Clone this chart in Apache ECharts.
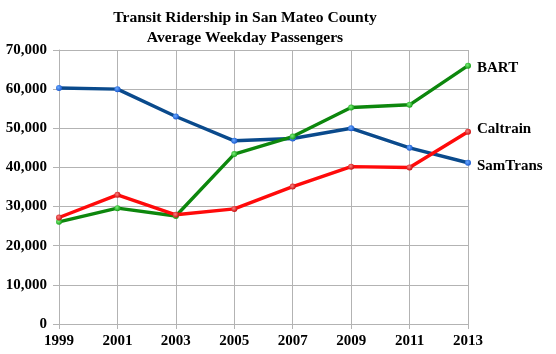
<!DOCTYPE html>
<html><head><meta charset="utf-8">
<script src="https://cdn.jsdelivr.net/npm/echarts@6/dist/echarts.min.js"></script>
<style>html,body{margin:0;padding:0;background:#fff}#c{width:556px;height:354px}</style>
</head><body><div id="c"></div>
<script>
var years = ['1999','2001','2003','2005','2007','2009','2011','2013'];
var bart = [26100, 29600, 27600, 43400, 47900, 55300, 56000, 66000];
var caltrain = [27200, 33000, 27900, 29400, 35100, 40200, 40000, 49100];
var samtrans = [60300, 60000, 53000, 46800, 47400, 50000, 45000, 41200];
var yTicks = [0, 10000, 20000, 30000, 40000, 50000, 60000, 70000];

var font = 'Liberation Serif';
function fmt(v){ return v.toLocaleString('en-US'); }
function mk(name, data, color, grad, dark, dy){
  return {
    name: name, type: 'line', data: data,
    symbol: 'circle', symbolSize: 6,
    lineStyle: {color: color, width: 3.4},
    itemStyle: {color: {type:'radial', x:0.4, y:0.4, r:0.6, colorStops:[{offset:0,color:grad},{offset:1,color:dark}]}, borderWidth: 0},
    endLabel: {show: true, formatter: '{a}', color: '#000', fontFamily: font, fontWeight: 'bold', fontSize: 15, distance: 9, offset: [0, dy]},
    animation: false, z: 3
  };
}
var chart = echarts.init(document.getElementById('c'));
chart.setOption({
  animation: false,
  title: {
    text: 'Transit Ridership in San Mateo County\nAverage Weekday Passengers',
    left: 240, top: 3, textAlign: 'center',
    textStyle: {fontFamily: font, fontWeight: 'bold', fontSize: 15.6, lineHeight: 20, color: '#000'}
  },
  grid: {left: 59, right: 88, top: 50, bottom: 30},
  xAxis: {
    type: 'category', data: years, boundaryGap: false,
    axisLine: {lineStyle: {color: '#b3b3b3', width: 1}},
    axisTick: {show: true, length: 5, lineStyle: {color: '#b3b3b3'}},
    splitLine: {show: true, lineStyle: {color: '#b3b3b3', width: 1}},
    axisLabel: {color: '#000', fontFamily: font, fontWeight: 'bold', fontSize: 15, margin: 10}
  },
  yAxis: {
    type: 'value', min: 0, max: 70000, interval: 10000,
    axisLine: {show: true, lineStyle: {color: '#b3b3b3', width: 1}},
    axisTick: {show: true, length: 6, lineStyle: {color: '#b3b3b3'}},
    splitLine: {show: true, lineStyle: {color: '#b3b3b3', width: 1}},
    axisLabel: {color: '#000', fontFamily: font, fontWeight: 'bold', fontSize: 15, margin: 12,
      formatter: function(v){ return yTicks.indexOf(v) >= 0 ? fmt(v) : ''; }}
  },
  series: [
    mk('SamTrans', samtrans, '#0a4a8c', '#6aaaff', '#1a5ad0', 3),
    mk('BART', bart, '#0d870d', '#7aee7a', '#16a016', 2),
    mk('Caltrain', caltrain, '#ff0a0a', '#ff8080', '#c81010', -3)
  ]
});
</script></body></html>
